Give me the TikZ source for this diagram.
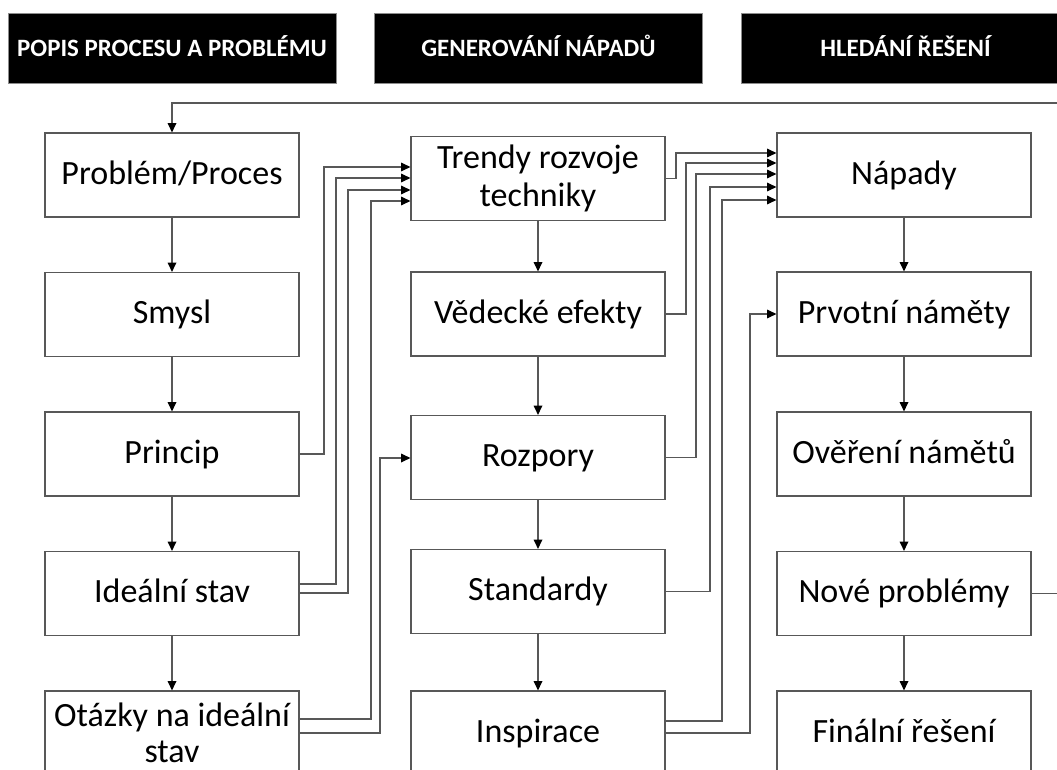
\documentclass[tikz,border=0pt]{standalone}
\usepackage{fontspec}
\setmainfont{Carlito}
\usetikzlibrary{arrows.meta}
\definecolor{edge}{RGB}{88,88,88}
\begin{document}
\begin{tikzpicture}[x=0.75pt,y=-0.75pt,
  stage/.style={fill=black,draw=black!45,line width=0.6pt,text=white,
    font=\bfseries\fontsize{18.7}{22}\selectfont,
    minimum width=246pt,minimum height=52.5pt,inner sep=0pt,
    text height=13pt,text depth=0pt},
  stepbox/.style={draw=edge,line width=0.9pt,fill=white,
    minimum width=190.5pt,minimum height=63pt,inner sep=1pt,align=center,
    font=\fontsize{25.5}{27}\selectfont},
  oneline/.style={stepbox,text height=19pt,text depth=4.8pt},
  flow/.style={draw=edge,line width=0.9pt,
    -{Triangle[length=7pt,width=6.5pt,color=black]}},
]
\useasboundingbox (0,0) rectangle (1057,770);
\fill[white] (0,0) rectangle (1057,770);
\begin{scope}
\clip (0,0) rectangle (1057,770);

% stage headers
\node[stage] (h1) at (172,48)   {POPIS PROCESU A PROBLÉMU};
\node[stage] (h2) at (538.5,48) {GENEROVÁNÍ NÁPADŮ};
\node[stage] (h3) at (905.5,48) {HLEDÁNÍ ŘEŠENÍ};

% column 1: description of process and problem
\node[oneline] (problem) at (172,175)   {Problém/Proces};
\node[oneline] (smysl)   at (172,314.5) {Smysl};
\node[oneline] (princip) at (172,454)   {Princip};
\node[oneline] (ideal)   at (172,593.5) {Ideální stav};
\node[stepbox] (otazky)  at (172,733)   {Otázky na ideální\\stav};

% column 2: generating ideas
\node[stepbox,font=\fontsize{25.5}{29}\selectfont]
               (trendy)    at (538,178.5) {Trendy rozvoje\\techniky};
\node[oneline] (vedecke)   at (538,314)   {Vědecké efekty};
\node[oneline] (rozpory)   at (538,457.5) {Rozpory};
\node[oneline] (standardy) at (538,591.5) {Standardy};
\node[oneline] (inspirace) at (538,733)   {Inspirace};

% column 3: searching for solutions
\node[oneline] (napady)  at (904,175)   {Nápady};
\node[oneline] (prvotni) at (904,314)   {Prvotní náměty};
\node[oneline] (overeni) at (904,454)   {Ověření námětů};
\node[oneline] (nove)    at (904,593.5) {Nové problémy};
\node[oneline] (finalni) at (904,733)   {Finální řešení};

% vertical flow inside columns
\draw[flow] (problem) -- (smysl);
\draw[flow] (smysl) -- (princip);
\draw[flow] (princip) -- (ideal);
\draw[flow] (ideal) -- (otazky);
\draw[flow] (trendy) -- (vedecke);
\draw[flow] (vedecke) -- (rozpory);
\draw[flow] (rozpory) -- (standardy);
\draw[flow] (standardy) -- (inspirace);
\draw[flow] (napady) -- (prvotni);
\draw[flow] (prvotni) -- (overeni);
\draw[flow] (overeni) -- (nove);
\draw[flow] (nove) -- (finalni);

% column 1 -> column 2
\draw[flow] (princip.east) -| (324,167) -- (trendy.west |- 0,167);
\draw[flow] (ideal.east |- 0,584) -| (336,178) -- (trendy.west |- 0,178);
\draw[flow] (ideal.east |- 0,593) -| (348,190) -- (trendy.west |- 0,190);
\draw[flow] (otazky.east |- 0,719) -| (371,201) -- (trendy.west |- 0,201);
\draw[flow] (otazky.east |- 0,733) -| (380,458) -- (rozpory.west |- 0,458);

% column 2 -> column 3
\draw[flow] (trendy.east) -| (676,153) -- (napady.west |- 0,153);
\draw[flow] (vedecke.east) -| (686,163) -- (napady.west |- 0,163);
\draw[flow] (rozpory.east) -| (696,174) -- (napady.west |- 0,174);
\draw[flow] (standardy.east) -| (710,187) -- (napady.west |- 0,187);
\draw[flow] (inspirace.east |- 0,721) -| (722,200) -- (napady.west |- 0,200);
\draw[flow] (inspirace.east |- 0,733) -| (750,314) -- (prvotni.west |- 0,314);

% feedback loop from new problems back to the start
\coordinate (loopR) at (1075,103);
\draw[flow] (nove.east) -| (loopR) -| (problem.north);
\end{scope}
\end{tikzpicture}
\end{document}
